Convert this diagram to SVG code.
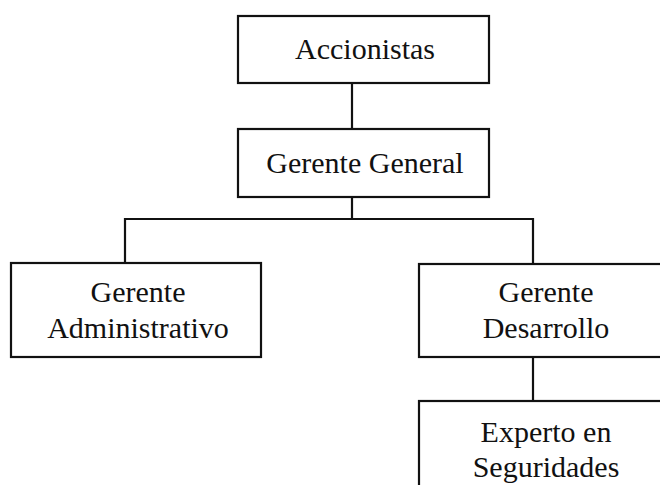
<svg xmlns="http://www.w3.org/2000/svg" width="660" height="485" viewBox="0 0 660 485">
<style>
.box{fill:#fff;stroke:#111;stroke-width:2.2}
.t{font-family:"Liberation Serif",serif;font-size:30px;fill:#111;text-anchor:middle}
.c{fill:none;stroke:#111;stroke-width:2.2}
</style>
<rect width="660" height="485" fill="#fff"/>
<g id="connectors">
<line class="c" x1="352" y1="83" x2="352" y2="129"/>
<path class="c" d="M352 197V219M125 263V219H533V264"/>
<line class="c" x1="533" y1="357" x2="533" y2="401"/>
</g>
<g id="accionistas"><rect class="box" x="238" y="16" width="251" height="67"/><text class="t" x="365" y="59">Accionistas</text></g>
<g id="gerente-general"><rect class="box" x="238" y="129" width="251" height="68"/><text class="t" x="365" y="173">Gerente General</text></g>
<g id="gerente-administrativo"><rect class="box" x="11" y="263" width="250" height="94"/><text class="t" x="138" y="302">Gerente</text><text class="t" x="138" y="338">Administrativo</text></g>
<g id="gerente-desarrollo"><rect class="box" x="419" y="264" width="262" height="93"/><text class="t" x="546" y="302">Gerente</text><text class="t" x="546" y="338">Desarrollo</text></g>
<g id="experto-seguridades"><rect class="box" x="419" y="401" width="262" height="110"/><text class="t" x="546" y="442">Experto en</text><text class="t" x="546" y="477">Seguridades</text></g>
</svg>
